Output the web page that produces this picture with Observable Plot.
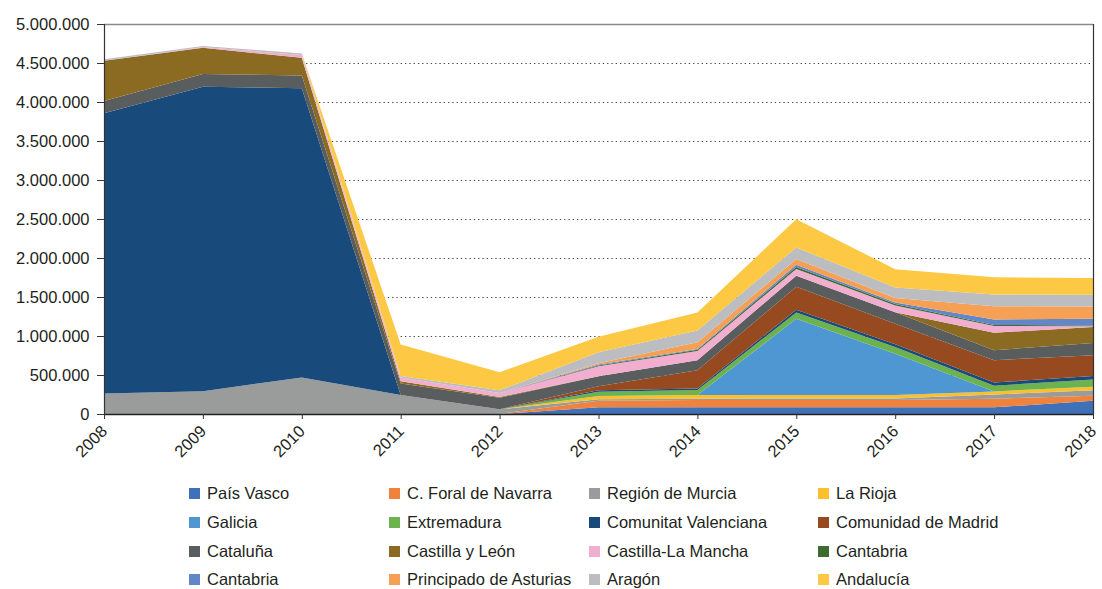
<!DOCTYPE html>
<html>
<head>
<meta charset="utf-8">
<script src="https://cdn.jsdelivr.net/npm/d3@7"></script>
<script src="https://cdn.jsdelivr.net/npm/@observablehq/plot@0.6"></script>
<style>
  body { margin: 0; background: #fff; font-family: "Liberation Sans", Arial, sans-serif; }
  #wrap { position: relative; width: 1102px; height: 589px; }
  .lg { position: absolute; display: flex; align-items: center; font-size: 16.5px; color: #231f20; white-space: nowrap; }
  .sw { width: 11px; height: 11px; margin-right: 7px; flex: none; }
</style>
</head>
<body>
<div id="wrap"></div>
<script>
const years = [2008, 2009, 2010, 2011, 2012, 2013, 2014, 2015, 2016, 2017, 2018];

const seriesNames = [
  "País Vasco", "C. Foral de Navarra", "Región de Murcia", "La Rioja",
  "Galicia", "Extremadura", "Comunitat Valenciana", "Comunidad de Madrid",
  "Cataluña", "Castilla y León", "Castilla-La Mancha", "Cantabria",
  "Cantabria", "Principado de Asturias", "Aragón", "Andalucía"
];

const seriesColors = [
  "#3f70b8", "#ef823c", "#9a9c9c", "#fcbf2e",
  "#4f97d2", "#6cb34f", "#184a7b", "#974a1f",
  "#5a5d5e", "#8b6b22", "#f2aecf", "#3e6b2f",
  "#6287c9", "#f6a055", "#bcbdc0", "#fdc843"
];

const paisVasco     = [0, 0, 0, 0, 0, 85000, 85000, 85000, 85000, 85000, 170000];
const navarra       = [0, 0, 0, 0, 0, 85000, 94000, 94000, 94000, 110000, 64000];
const murcia        = [264000, 293000, 468000, 242000, 60000, 20000, 17000, 20000, 20000, 55000, 72000];
const laRioja       = [0, 0, 0, 0, 0, 40000, 47000, 43000, 43000, 40000, 43000];
const galicia       = [0, 0, 0, 0, 0, 0, 0, 978000, 532000, 0, 0];
const extremadura   = [0, 0, 0, 0, 0, 55000, 64000, 81000, 85000, 72000, 94000];
const valenciana    = [3592000, 3903000, 3707000, 0, 0, 20000, 20000, 34000, 34000, 43000, 43000];
const madrid        = [0, 0, 0, 0, 0, 50000, 234000, 298000, 264000, 285000, 268000];
const cataluna      = [158000, 162000, 166000, 149000, 148000, 128000, 128000, 140000, 149000, 128000, 157000];
const castillaLeon  = [514000, 336000, 226000, 30000, 10000, 0, 0, 0, 0, 225000, 204000];
const castillaMancha= [0, 10000, 35000, 47000, 51000, 128000, 120000, 85000, 85000, 85000, 10000];
const cantabriaA    = [0, 0, 0, 0, 0, 10000, 15000, 26000, 20000, 13000, 10000];
const cantabriaB    = [0, 0, 0, 0, 0, 15000, 10000, 30000, 20000, 72000, 85000];
const asturias      = [0, 0, 0, 0, 0, 15000, 85000, 72000, 55000, 170000, 157000];
const aragon        = [20000, 15000, 20000, 20000, 34000, 140000, 153000, 149000, 136000, 149000, 153000];
const andalucia     = [0, 0, 0, 404000, 233000, 200000, 230000, 361000, 234000, 221000, 213000];

const seriesValues = [
  paisVasco, navarra, murcia, laRioja, galicia, extremadura, valenciana, madrid,
  cataluna, castillaLeon, castillaMancha, cantabriaA, cantabriaB, asturias, aragon, andalucia
];

const yTicks = d3.range(0, 5000001, 500000);
const gridTicks = d3.range(500000, 4500001, 500000);

const data = [];
seriesValues.forEach((vals, i) => {
  vals.forEach((v, j) => data.push({key: i, name: seriesNames[i], year: years[j], value: v, color: seriesColors[i]}));
});

const loc = d3.formatLocale({decimal: ",", thousands: ".", grouping: [3], currency: ["", ""]});
const fmt = loc.format(",d");

const chart = Plot.plot({
  width: 1102,
  height: 470,
  marginLeft: 104,
  marginRight: 9,
  marginTop: 24,
  marginBottom: 56,
  style: {fontFamily: '"Liberation Sans", Arial, sans-serif', fontSize: "16.5px", color: "#231f20", background: "#fff"},
  x: {domain: [2008, 2018], label: null},
  y: {domain: [0, 5000000], label: null},
  marks: [
    Plot.ruleY(gridTicks, {stroke: "#444", strokeWidth: 1.2, strokeDasharray: "1.3,3"}),
    Plot.areaY(data, {x: "year", y: "value", z: "key", fill: "color", curve: "linear"}),
    Plot.ruleY([5000000], {stroke: "#8a8a8a", strokeWidth: 1.5}),
    Plot.ruleX([2018], {stroke: "#333", strokeWidth: 1.2}),
    Plot.ruleX([2008], {stroke: "#333", strokeWidth: 1.2}),
    Plot.ruleY([0], {stroke: "#222", strokeWidth: 1.3}),
    Plot.axisY({ticks: yTicks, tickFormat: fmt, tickSize: 7, tickPadding: 8, label: null, stroke: "#333"}),
    Plot.axisX({ticks: years, tickSize: 5, tickFormat: () => "", label: null, stroke: "#333"}),
    Plot.axisX({ticks: years, tickFormat: d => String(d), tickSize: 0, tickPadding: 9, dy: 5, tickRotate: -45, label: null})
  ]
});

const wrap = document.getElementById("wrap");
wrap.appendChild(chart);

const colX = [189, 389, 589, 818];
const rowY = [493, 522, 551, 579];
seriesNames.forEach((n, i) => {
  const r = Math.floor(i / 4), c = i % 4;
  const el = document.createElement("div");
  el.className = "lg";
  el.style.left = colX[c] + "px";
  el.style.top = (rowY[r] - 10) + "px";
  el.style.height = "20px";
  el.innerHTML = `<span class="sw" style="background:${seriesColors[i]}"></span><span>${n}</span>`;
  wrap.appendChild(el);
});
</script>
</body>
</html>
